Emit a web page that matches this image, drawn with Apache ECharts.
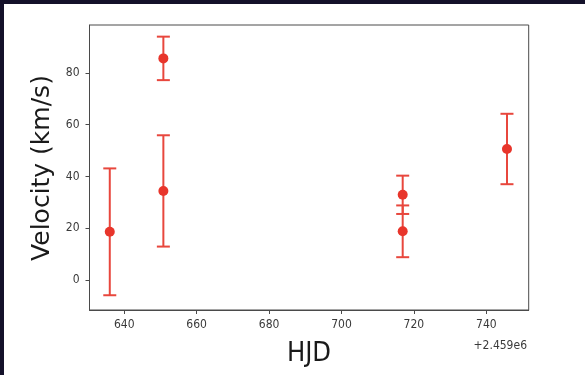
<!DOCTYPE html>
<html>
<head>
<meta charset="utf-8">
<script src="https://cdn.jsdelivr.net/npm/echarts@6/dist/echarts.min.js"></script>
<style>
html,body{margin:0;padding:0;background:#fff;}
#wrap{position:relative;width:585px;height:375px;background:#14112a;}
#chart{position:absolute;left:4px;top:4px;width:581px;height:371px;background:#fff;}
</style>
</head>
<body>
<div id="wrap"><div id="chart"></div></div>
<script>
// HJD offset (values below are HJD - 2.459e6)
const OFFSET_LABEL = '+2.459e6';
const hjd = [636.0, 650.8, 650.8, 716.9, 716.9, 745.7];
const velocity = [18.6, 85.6, 34.4, 32.9, 18.8, 50.6];
const velErr = [24.5, 8.4, 21.5, 7.4, 10.0, 13.6];
const xTicks = [640, 660, 680, 700, 720, 740];
const yTicks = [0, 20, 40, 60, 80];

const chart = echarts.init(document.getElementById('chart'), null, {renderer: 'canvas'});
const pts = hjd.map((x, i) => [x, velocity[i], velErr[i]]);
const red = '#e8352b';
const errRed = '#e8473d';
const font = "'DejaVu Sans Condensed', 'DejaVu Sans', sans-serif";

chart.setOption({
  animation: false,
  grid: {left: 85.5, right: 56.3, top: 21, bottom: 65, show: true, borderColor: '#4a4a4a', borderWidth: 1, containLabel: false},
  xAxis: {
    type: 'value', min: 630.4, max: 751.7,
    axisLine: {show: true, onZero: false, lineStyle: {color: '#4a4a4a', width: 1}},
    axisTick: {show: true, length: 4, customValues: xTicks, lineStyle: {color: '#4a4a4a'}},
    axisLabel: {customValues: xTicks, color: '#3a3a3a', fontSize: 12, fontFamily: font, margin: 9},
    splitLine: {show: false}
  },
  yAxis: {
    type: 'value', min: -11.6, max: 98.5,
    axisLine: {show: true, onZero: false, lineStyle: {color: '#4a4a4a', width: 1}},
    axisTick: {show: true, length: 4, customValues: yTicks, lineStyle: {color: '#4a4a4a'}},
    axisLabel: {customValues: yTicks, color: '#3a3a3a', fontSize: 12, fontFamily: font, margin: 10},
    splitLine: {show: false}
  },
  graphic: [
    {type: 'text', x: 38, y: 164, rotation: Math.PI / 2, style: {text: 'Velocity (km/s)', font: "25px 'DejaVu Sans', sans-serif", fill: '#1a1a1a', align: 'center', verticalAlign: 'middle'}},
    {type: 'text', x: 305, y: 350, style: {text: 'HJD', font: "27px 'DejaVu Sans Condensed', 'DejaVu Sans', sans-serif", fill: '#1a1a1a', align: 'center', verticalAlign: 'middle'}},
    {type: 'text', x: 523, y: 342, style: {text: OFFSET_LABEL, font: "12px 'DejaVu Sans Condensed', 'DejaVu Sans', sans-serif", fill: '#3a3a3a', align: 'right', verticalAlign: 'middle'}}
  ],
  series: [
    {
      type: 'custom',
      data: pts,
      renderItem: function (params, api) {
        const x = api.value(0), y = api.value(1), e = api.value(2);
        const top = api.coord([x, y + e]);
        const bot = api.coord([x, y - e]);
        const cw = 6.5;
        const st = {stroke: errRed, lineWidth: 2};
        return {type: 'group', children: [
          {type: 'line', shape: {x1: top[0], y1: top[1], x2: bot[0], y2: bot[1]}, style: st},
          {type: 'line', shape: {x1: top[0] - cw, y1: top[1], x2: top[0] + cw, y2: top[1]}, style: st},
          {type: 'line', shape: {x1: bot[0] - cw, y1: bot[1], x2: bot[0] + cw, y2: bot[1]}, style: st}
        ]};
      },
      z: 2
    },
    {
      type: 'scatter',
      data: pts.map(p => [p[0], p[1]]),
      symbol: 'circle', symbolSize: 10,
      itemStyle: {color: red, opacity: 1},
      z: 3
    }
  ]
});
</script>
</body>
</html>
